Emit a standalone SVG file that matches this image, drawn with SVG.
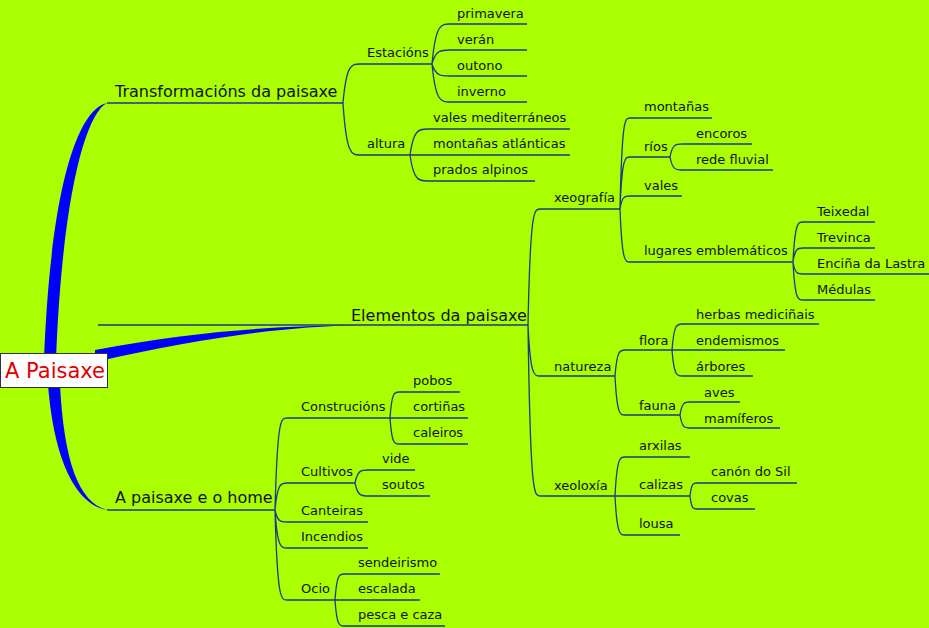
<svg xmlns="http://www.w3.org/2000/svg" width="929" height="628" viewBox="0 0 929 628">
<style>
.l{fill:none;stroke:#1a3a8a;stroke-width:1.3}
.t{font-family:"DejaVu Sans",sans-serif;font-size:13px;fill:#111}
.m{font-family:"DejaVu Sans",sans-serif;font-size:16px;fill:#111}
.b{fill:#0000ff;stroke:none}
</style>
<rect width="929" height="628" fill="#aaff00"/>
<g id="connectors">
<path class="b" d="M44,360 C50,200 75,110 107,103 C85,114 62,200 56,360 Z"/>
<path class="b" d="M95,350 C200,330 280,326 360,325 C280,327 200,338 95,362 Z"/>
<path class="b" d="M48,385 C55,470 80,505 107,510 C78,502 64,460 60,385 Z"/>
<path class="l" d="M107,103H343 M98,325H528 M107,510H275"/>
<path class="l" d="M343,103 C346.4,64 351.5,64 360,64 H432 M343,103 C346.4,155 351.5,155 360,155 H410"/>
<path class="l" d="M432,64 C435.6,24 441,24 450,24 H527 M432,64 C435.6,50 441,50 450,50 H527 M432,64 C435.6,76 441,76 450,76 H527 M432,64 C435.6,102 441,102 450,102 H527"/>
<path class="l" d="M410,155 C413.6,129 419,129 428,129 H570 M410,155 C413.6,155 419,155 428,155 H570 M410,155 C413.6,181 419,181 428,181 H535"/>
<path class="l" d="M528,325 C530.4,209 534,209 540,209 H620 M528,325 C530.4,376 534,376 540,376 H615 M528,325 C530.4,496 534,496 540,496 H615"/>
<path class="l" d="M620,209 C622,118 625,118 630,118 H712 M620,209 C622,157 625,157 630,157 H670 M620,209 C622,196 625,196 630,196 H682 M620,209 C622,262 625,262 630,262 H793"/>
<path class="l" d="M670,157 C672.4,144 676,144 682,144 H752 M670,157 C672.4,170 676,170 682,170 H773"/>
<path class="l" d="M793,262 C795,222 798,222 803,222 H875 M793,262 C795,248 798,248 803,248 H875 M793,262 C795,274 798,274 803,274 H929 M793,262 C795,300 798,300 803,300 H875"/>
<path class="l" d="M615,376 C617,350 620,350 625,350 H672 M615,376 C617,415 620,415 625,415 H680"/>
<path class="l" d="M672,350 C674,324 677,324 682,324 H819 M672,350 C674,350 677,350 682,350 H785 M672,350 C674,376 677,376 682,376 H753"/>
<path class="l" d="M680,415 C682,402 685,402 690,402 H740 M680,415 C682,428 685,428 690,428 H780"/>
<path class="l" d="M615,496 C617,457 620,457 625,457 H690 M615,496 C617,496 620,496 625,496 H690 M615,496 C617,535 620,535 625,535 H680"/>
<path class="l" d="M690,496 C691.4,483 693.5,483 697,483 H797 M690,496 C691.4,509 693.5,509 697,509 H755"/>
<path class="l" d="M275,510 C277.4,418 281,418 287,418 H390 M275,510 C277.4,483 281,483 287,483 H355 M275,510 C277.4,522 281,522 287,522 H368 M275,510 C277.4,548 281,548 287,548 H368 M275,510 C277.4,600 281,600 287,600 H335"/>
<path class="l" d="M390,418 C391.8,392 394.5,392 399,392 H460 M390,418 C391.8,418 394.5,418 399,418 H468 M390,418 C391.8,444 394.5,444 399,444 H468"/>
<path class="l" d="M355,483 C357.6,470 361.5,470 368,470 H415 M355,483 C357.6,496 361.5,496 368,496 H430"/>
<path class="l" d="M335,600 C336.8,574 339.5,574 344,574 H440 M335,600 C336.8,600 339.5,600 344,600 H420 M335,600 C336.8,626 339.5,626 344,626 H445"/>
</g>
<g id="root"><rect x="0.5" y="353.5" width="107" height="34" fill="#fff" stroke="#333"/><text x="5" y="378" font-family="DejaVu Sans,sans-serif" font-size="21" fill="#e00000">A Paisaxe</text></g>
<g id="n-transf"><text class="m" x="115" y="97">Transformacións da paisaxe</text></g>
<g id="n-elem"><text class="m" x="351" y="321">Elementos da paisaxe</text></g>
<g id="n-home"><text class="m" x="115" y="503">A paisaxe e o home</text></g>
<g id="n-estacions"><text class="t" x="367" y="57">Estacións</text></g>
<g id="n-primavera"><text class="t" x="457" y="18">primavera</text></g>
<g id="n-veran"><text class="t" x="457" y="44">verán</text></g>
<g id="n-outono"><text class="t" x="457" y="70">outono</text></g>
<g id="n-inverno"><text class="t" x="457" y="96">inverno</text></g>
<g id="n-altura"><text class="t" x="367" y="148">altura</text></g>
<g id="n-vales-med"><text class="t" x="433" y="122">vales mediterráneos</text></g>
<g id="n-montanas-atl"><text class="t" x="433" y="148">montañas atlánticas</text></g>
<g id="n-prados"><text class="t" x="433" y="174">prados alpinos</text></g>
<g id="n-xeografia"><text class="t" x="554" y="202">xeografía</text></g>
<g id="n-montanas"><text class="t" x="644" y="111">montañas</text></g>
<g id="n-rios"><text class="t" x="644" y="151">ríos</text></g>
<g id="n-encoros"><text class="t" x="696" y="138">encoros</text></g>
<g id="n-rede"><text class="t" x="696" y="164">rede fluvial</text></g>
<g id="n-vales"><text class="t" x="644" y="190">vales</text></g>
<g id="n-lugares"><text class="t" x="644" y="255">lugares emblemáticos</text></g>
<g id="n-teixedal"><text class="t" x="817" y="216">Teixedal</text></g>
<g id="n-trevinca"><text class="t" x="817" y="242">Trevinca</text></g>
<g id="n-encina"><text class="t" x="817" y="268">Enciña da Lastra</text></g>
<g id="n-medulas"><text class="t" x="817" y="294">Médulas</text></g>
<g id="n-natureza"><text class="t" x="554" y="371">natureza</text></g>
<g id="n-flora"><text class="t" x="639" y="345">flora</text></g>
<g id="n-herbas"><text class="t" x="696" y="319">herbas mediciñais</text></g>
<g id="n-endemismos"><text class="t" x="696" y="345">endemismos</text></g>
<g id="n-arbores"><text class="t" x="696" y="371">árbores</text></g>
<g id="n-fauna"><text class="t" x="639" y="410">fauna</text></g>
<g id="n-aves"><text class="t" x="704" y="397">aves</text></g>
<g id="n-mamiferos"><text class="t" x="704" y="423">mamíferos</text></g>
<g id="n-xeoloxia"><text class="t" x="554" y="490">xeoloxía</text></g>
<g id="n-arxilas"><text class="t" x="639" y="450">arxilas</text></g>
<g id="n-calizas"><text class="t" x="639" y="489">calizas</text></g>
<g id="n-canon"><text class="t" x="711" y="476">canón do Sil</text></g>
<g id="n-covas"><text class="t" x="711" y="502">covas</text></g>
<g id="n-lousa"><text class="t" x="639" y="528">lousa</text></g>
<g id="n-construcions"><text class="t" x="301" y="411">Construcións</text></g>
<g id="n-pobos"><text class="t" x="413" y="385">pobos</text></g>
<g id="n-cortinas"><text class="t" x="413" y="411">cortiñas</text></g>
<g id="n-caleiros"><text class="t" x="413" y="437">caleiros</text></g>
<g id="n-cultivos"><text class="t" x="301" y="476">Cultivos</text></g>
<g id="n-vide"><text class="t" x="382" y="463">vide</text></g>
<g id="n-soutos"><text class="t" x="382" y="489">soutos</text></g>
<g id="n-canteiras"><text class="t" x="301" y="515">Canteiras</text></g>
<g id="n-incendios"><text class="t" x="301" y="541">Incendios</text></g>
<g id="n-ocio"><text class="t" x="301" y="593">Ocio</text></g>
<g id="n-sendeirismo"><text class="t" x="358" y="567">sendeirismo</text></g>
<g id="n-escalada"><text class="t" x="358" y="593">escalada</text></g>
<g id="n-pesca"><text class="t" x="358" y="619">pesca e caza</text></g>
</svg>
